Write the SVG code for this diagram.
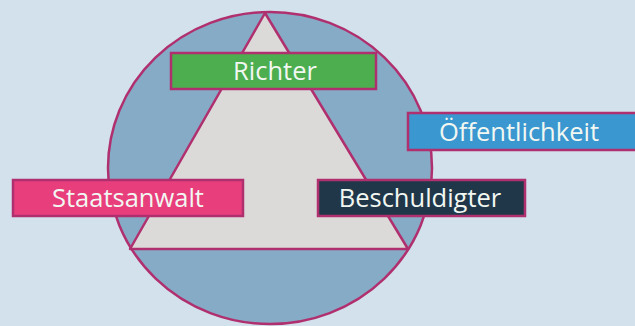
<svg xmlns="http://www.w3.org/2000/svg" width="635" height="326" viewBox="0 0 635 326">
  <style>
    .edge { stroke: #b0306f; stroke-width: 2.5; }
    .label { font-family: "Open Sans", "Liberation Sans", sans-serif; font-size: 25.5px; fill: #f2f7f2; text-anchor: middle; }
  </style>
  <rect width="635" height="326" fill="#d3e1ec"/>
  <!-- backdrop: circle with inscribed triangle -->
  <g id="backdrop">
    <ellipse class="edge" cx="270" cy="168" rx="162" ry="156" fill="#86abc6"/>
    <polygon class="edge" points="265,13 130,249 408,249" fill="#dcdad8" stroke-linejoin="round"/>
  </g>
  <g id="connectors"></g>
  <g id="richter">
    <rect class="edge" x="171" y="53" width="205" height="36" fill="#4cae4f"/>
    <text class="label" x="275" y="80">Richter</text>
  </g>
  <g id="oeffentlichkeit">
    <rect class="edge" x="408" y="113" width="240" height="37" fill="#3a97d0"/>
    <text class="label" x="519" y="141">Öffentlichkeit</text>
  </g>
  <g id="staatsanwalt">
    <rect class="edge" x="13" y="180" width="230" height="36" fill="#e83e7c"/>
    <text class="label" x="128" y="207">Staatsanwalt</text>
  </g>
  <g id="beschuldigter">
    <rect class="edge" x="318" y="180" width="207" height="36" fill="#203749"/>
    <text class="label" x="420" y="207">Beschuldigter</text>
  </g>
</svg>
